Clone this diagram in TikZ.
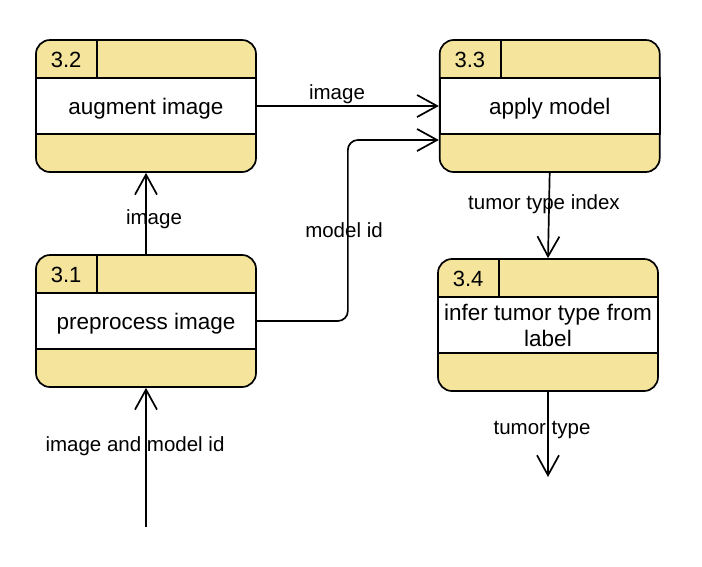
\documentclass[tikz,border=0pt]{standalone}
\usepackage{fontspec}
\setmainfont{Liberation Sans}
\usetikzlibrary{calc,positioning,arrows.meta}
\definecolor{procyellow}{RGB}{244,228,156}
\tikzset{
  proc/.style={draw, line width=1.7pt, rounded corners=14pt, fill=procyellow,
    minimum width=220pt, minimum height=132pt, inner sep=0pt},
  procbody/.style={draw, line width=1.7pt, fill=white, minimum width=220pt,
    minimum height=56pt, inner sep=0pt, align=center,
    font=\fontsize{22.5}{26}\selectfont},
  oneline/.style={text height=16pt, text depth=0pt},
  procnum/.style={font=\fontsize{22}{26}\selectfont},
  flow/.style={line width=1.7pt, -{Straight Barb[length=20pt,width=22pt,line width=1.7pt]}},
  lbl/.style={font=\fontsize{20.5}{24}\selectfont, inner sep=0pt}
}

\begin{document}
\begin{tikzpicture}[x=1pt,y=-1pt]
  \useasboundingbox (0,0) rectangle (702,566);
  % processes
  \node[proc] (p32) at (146,106) {};
  \node[proc, right=182pt of p32] (p33) {};
  \node[proc] (p31) at (146,321) {};
  \node[proc] (p34) at (548,325) {};
  \node[procbody, oneline] (b32) at (p32.center) {augment image};
  \node[procbody, oneline] (b33) at (p33.center) {apply model};
  \node[procbody, oneline] (b31) at (p31.center) {preprocess image};
  \node[procbody] (b34) at (p34.center) {infer tumor type from\\label};
  % header dividers and numbers
  \foreach \p/\n in {p32/3.2, p33/3.3, p31/3.1, p34/3.4} {
    \draw[line width=1.7pt] ($(\p.north west)+(62,0)$) -- ++(0,38);
    \node[procnum] (\p num) at ($(\p.north west)+(31,21)$) {\n};
  }
  % free ends
  \coordinate (src) at (146,527);
  \coordinate (sink) at (548,477);
  \coordinate (m33) at ($(p33.west)+(0,34)$);
  % flows
  \draw[flow] (src) -- (p31.south);
  \draw[flow] (p31.north) -- (p32.south);
  \draw[flow] (p32.east) -- (p33.west);
  \draw[flow, rounded corners=10pt] (p31.east) -| ($(p31.east)!0.5!(m33)$) |- (m33);
  \draw[flow] (p33.south) -- (p34.north);
  \draw[flow] (p34.south) -- (sink);
  % labels
  \node[lbl] (limg1) at (154,219) {image};
  \node[lbl] (limg2) at (337,94) {image};
  \node[lbl] (lmid) at (344,230) {model id};
  \node[lbl] (lidx) at (544,204) {tumor type index};
  \node[lbl] (ltype) at (542,430) {tumor type};
  \node[lbl] (lin) at (135,446) {image and model id};
\end{tikzpicture}
\end{document}
